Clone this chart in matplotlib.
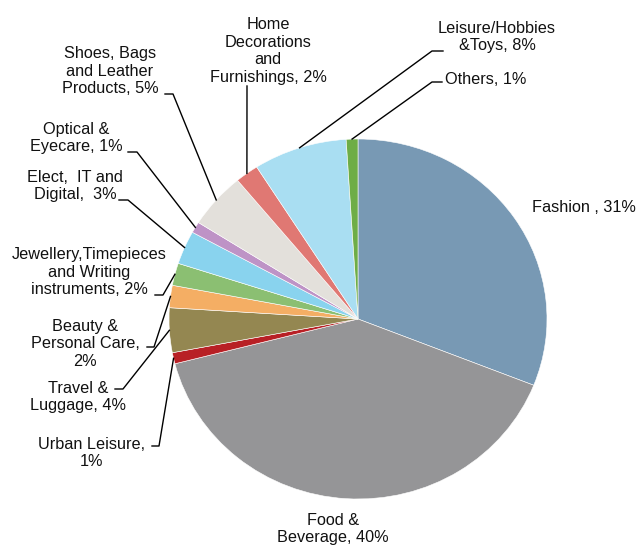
import numpy as np
import matplotlib
matplotlib.use("Agg")
import matplotlib.pyplot as plt

# canvas size and pie box (pixels)
W, H = 642, 546
CX, CY, RX, RY = 358, 319, 189, 180

categories = ['Fashion', 'Food & Beverage', 'Urban Leisure', 'Travel & Luggage',
              'Beauty & Personal Care', 'Jewellery, Timepieces and Writing instruments',
              'Elect, IT and Digital', 'Optical & Eyecare', 'Shoes, Bags and Leather Products',
              'Home Decorations and Furnishings', 'Leisure/Hobbies & Toys', 'Others']
shares = [31, 40, 1, 4, 2, 2, 3, 1, 5, 2, 8, 1]
label_fmt = ["Fashion , {}%",
             "Food &\nBeverage, {}%",
             "Urban Leisure,\n{}%",
             "Travel &\nLuggage, {}%",
             "Beauty &\nPersonal Care,\n{}%",
             "Jewellery,Timepieces\nand Writing\ninstruments, {}%",
             "Elect,  IT and\nDigital,  {}%",
             "Optical &\nEyecare, {}%",
             "Shoes, Bags\nand Leather\nProducts, {}%",
             "Home\nDecorations\nand\nFurnishings, {}%",
             "Leisure/Hobbies\n&Toys, {}%",
             "Others, {}%"]
colors = ['#7899B4', '#959597', '#B82025', '#948751', '#F4AE64', '#8BBF72',
          '#89D3EE', '#BE93C6', '#E3E0DB', '#E07873', '#A9DEF2', '#6EAD47']

# label centre (px), alignment, leader elbow points (px)
label_pos = [
    (532, 208, 'left', None),
    (333, 529, 'center', None),
    (92, 453, 'center', [(152, 446), (159, 446)]),
    (78, 397, 'center', [(115, 389), (123, 389)]),
    (85, 344, 'center', [(147, 347), (154, 347)]),
    (89, 272, 'center', [(155, 295), (163, 295)]),
    (75, 186, 'center', [(119, 200), (128, 200)]),
    (76, 138, 'center', [(128, 152), (137, 152)]),
    (110, 71, 'center', [(165, 94), (173, 94)]),
    (268, 51, 'center', [(247, 86)]),
    (497, 37, 'center', [(443, 51), (432, 51)]),
    (445, 79, 'left', [(442, 82), (432, 82)]),
]


def to_data(px, py):
    return (px - CX) / RX, (CY - py) / RY


fig = plt.figure(figsize=(W / 100, H / 100), dpi=100)
ax = fig.add_axes([(CX - RX) / W, (H - CY - RY) / H, 2 * RX / W, 2 * RY / H])
wedges, _ = ax.pie(shares, colors=colors, startangle=90, counterclock=False,
                   radius=1, wedgeprops=dict(edgecolor='white', linewidth=0.4))
ax.set_aspect('auto')
ax.set_xlim(-1, 1)
ax.set_ylim(-1, 1)
ax.axis('off')

for w, v, fmt, (lx, ly, ha, elbow) in zip(wedges, shares, label_fmt, label_pos):
    fig.text(lx / W, 1 - ly / H, fmt.format(v), ha=ha, va='center',
             multialignment='center', fontsize=11.7, family='Liberation Sans',
             linespacing=1.22, color='#111111')
    if elbow is None:
        continue
    mid = np.deg2rad((w.theta1 + w.theta2) / 2)
    pts = [to_data(*p) for p in elbow] + [(np.cos(mid), np.sin(mid))]
    xs, ys = zip(*pts)
    ax.plot(xs, ys, color='black', lw=1.0, clip_on=False)

fig.savefig('out.png', dpi=100)
